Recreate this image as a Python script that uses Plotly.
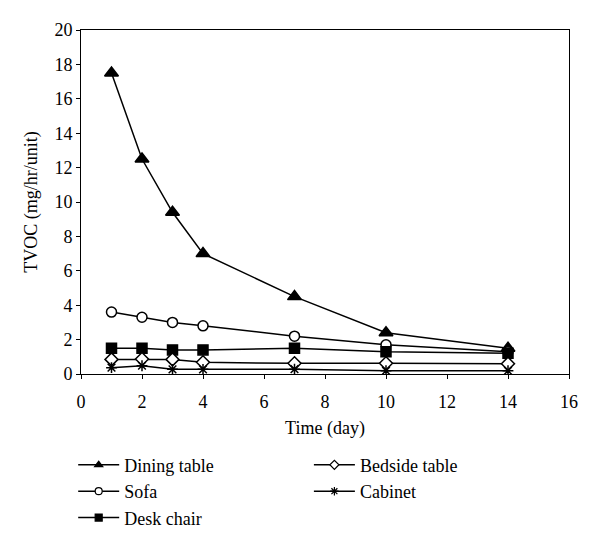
import plotly.graph_objects as go

days = [1, 2, 3, 4, 7, 10, 14]
dining_table = [17.5, 12.5, 9.4, 7.0, 4.5, 2.4, 1.5]
sofa = [3.6, 3.3, 3.0, 2.8, 2.2, 1.7, 1.3]
desk_chair = [1.5, 1.5, 1.4, 1.4, 1.5, 1.3, 1.2]
bedside_table = [0.85, 0.87, 0.85, 0.68, 0.62, 0.62, 0.6]
cabinet = [0.37, 0.48, 0.27, 0.27, 0.28, 0.19, 0.19]

series = [
    ("Dining table", dining_table, "triangle-up", 12, "black", "legend"),
    ("Sofa", sofa, "circle", 10, "white", "legend"),
    ("Desk chair", desk_chair, "square", 10, "black", "legend"),
    ("Bedside table", bedside_table, "diamond", 10, "white", "legend2"),
    ("Cabinet", cabinet, "asterisk-open", 9, "black", "legend2"),
]

FAM = "Times New Roman, Liberation Serif, serif"
font = dict(family=FAM, size=18, color="black")

fig = go.Figure()
for name, vals, sym, size, fill, lg in series:
    fig.add_trace(go.Scatter(
        x=days, y=vals, name=name, mode="lines+markers",
        line=dict(color="black", width=1.5),
        marker=dict(symbol=sym, size=size, color=fill,
                    line=dict(color="black", width=1.5)),
        legend=lg, showlegend=False,
    ))
# legend entries with the smaller legend symbols of the original
for name, vals, sym, size, fill, lg in series:
    fig.add_trace(go.Scatter(
        x=[None], y=[None], name=name, mode="lines+markers",
        line=dict(color="black", width=1.5),
        marker=dict(symbol=sym, size=7, color=fill,
                    line=dict(color="black", width=1.2)),
        legend=lg, showlegend=True, hoverinfo="skip",
    ))

fig.update_layout(
    width=600, height=546,
    margin=dict(l=73, r=39, t=22, b=180, autoexpand=False),
    paper_bgcolor="white", plot_bgcolor="white",
    font=font,
    xaxis=dict(range=[0, 16], dtick=2, tick0=0, showgrid=False, zeroline=False,
               showline=True, linecolor="black", linewidth=1, mirror=True,
               ticks="outside", ticklen=4, tickcolor="black",
               tickfont=font, ticklabelstandoff=7,
               title=dict(text="Time (day)", font=font, standoff=10)),
    yaxis=dict(range=[0, 20], dtick=2, tick0=0, showgrid=False, zeroline=False,
               showline=True, linecolor="black", linewidth=1, mirror=True,
               ticks="outside", ticklen=4, tickcolor="black",
               tickfont=font,
               title=dict(text="TVOC (mg/hr/unit)", font=font, standoff=12)),
    legend=dict(x=-0.016, y=-0.211, xanchor="left", yanchor="top", font=font,
                bgcolor="rgba(0,0,0,0)", tracegroupgap=0, itemwidth=41),
    legend2=dict(x=0.467, y=-0.211, xanchor="left", yanchor="top", font=font,
                 bgcolor="rgba(0,0,0,0)", tracegroupgap=0, itemwidth=41),
    showlegend=True,
)

fig.write_html("out.html")
